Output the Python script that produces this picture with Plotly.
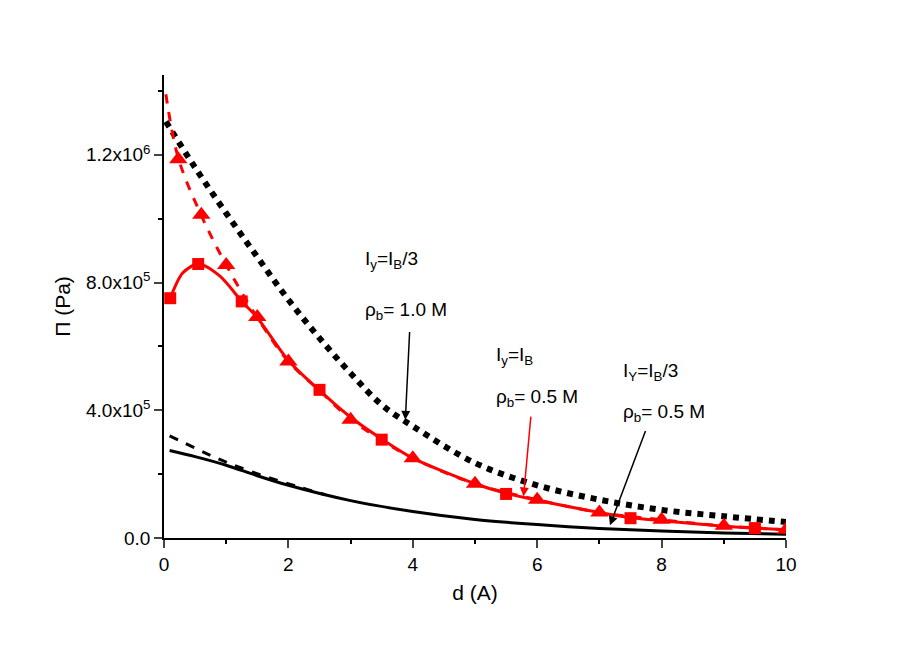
import plotly.graph_objects as go

dot_x = [0.03, 0.5, 1, 1.5, 2, 2.5, 3, 3.5, 4, 5, 6, 7, 8, 9, 10]
dot_y = [1.304e6, 1.16e6, 1.017e6, 0.88e6, 0.746e6, 0.626e6, 0.516e6, 0.417e6, 0.35e6, 0.235e6, 0.165e6, 0.12e6, 0.088e6, 0.068e6, 0.05e6]

rdash_x = [0.03, 0.23, 0.6, 1.0, 1.5, 2, 2.5, 3, 3.5, 4, 5, 6, 7, 8, 9, 10]
rdash_y = [1.39e6, 1.19e6, 1.01e6, 0.855e6, 0.69e6, 0.553e6, 0.462e6, 0.372e6, 0.306e6, 0.25e6, 0.17e6, 0.12e6, 0.08e6, 0.057e6, 0.038e6, 0.026e6]

tri_x = [0.23, 0.6, 1.0, 1.5, 2, 3, 4, 5, 6, 7, 8, 9, 10]
tri_y = [1.186e6, 1.012e6, 0.855e6, 0.692e6, 0.553e6, 0.37e6, 0.25e6, 0.17e6, 0.12e6, 0.08e6, 0.057e6, 0.038e6, 0.026e6]

rsol_x = [0.1, 0.3, 0.55, 0.9, 1.25, 1.5, 2, 2.5, 3, 3.5, 4, 5, 5.5, 6, 7, 7.5, 8, 9, 9.5, 10]
rsol_y = [0.751e6, 0.83e6, 0.858e6, 0.82e6, 0.741e6, 0.69e6, 0.556e6, 0.462e6, 0.378e6, 0.31e6, 0.25e6, 0.17e6, 0.14e6, 0.118e6, 0.08e6, 0.064e6, 0.054e6, 0.037e6, 0.031e6, 0.026e6]

sq_x = [0.1, 0.55, 1.25, 2.5, 3.5, 5.5, 7.5, 9.5]
sq_y = [0.751e6, 0.858e6, 0.741e6, 0.464e6, 0.308e6, 0.138e6, 0.062e6, 0.031e6]

bdash_x = [0.09, 0.85, 1.22, 1.7, 2.2, 2.6]
bdash_y = [0.32e6, 0.25e6, 0.221e6, 0.188e6, 0.158e6, 0.135e6]

bsol_x = [0.09, 0.5, 1, 1.5, 2, 3, 4, 5, 6, 7, 8, 9, 10]
bsol_y = [0.274e6, 0.255e6, 0.228e6, 0.195e6, 0.165e6, 0.117e6, 0.083e6, 0.058e6, 0.042e6, 0.03e6, 0.022e6, 0.016e6, 0.012e6]

ytick_vals = [0, 4e5, 8e5, 1.2e6]
ytick_text = ["0.0", "4.0x10<sup>5</sup>", "8.0x10<sup>5</sup>", "1.2x10<sup>6</sup>"]

RED = "#ff0000"
fig = go.Figure()
fig.add_trace(go.Scatter(x=bsol_x, y=bsol_y, mode="lines", line=dict(color="black", width=3, shape="spline", smoothing=0.8)))
fig.add_trace(go.Scatter(x=bdash_x, y=bdash_y, mode="lines", line=dict(color="black", width=3, dash="dash", shape="spline")))
fig.add_trace(go.Scatter(x=dot_x, y=dot_y, mode="lines", line=dict(color="black", width=6, dash="dot", shape="spline")))
fig.add_trace(go.Scatter(x=rdash_x, y=rdash_y, mode="lines", line=dict(color=RED, width=3, dash="dash", shape="spline")))
fig.add_trace(go.Scatter(x=rsol_x, y=rsol_y, mode="lines", line=dict(color=RED, width=3, shape="spline", smoothing=0.8)))
fig.add_trace(go.Scatter(x=tri_x, y=tri_y, mode="markers", marker=dict(color=RED, symbol="triangle-up", size=16)))
fig.add_trace(go.Scatter(x=sq_x, y=sq_y, mode="markers", marker=dict(color=RED, symbol="square", size=12)))

F = dict(family="Liberation Sans, Arial", size=19, color="black")
def txt(x, y, s):
    fig.add_annotation(x=x, y=y, xref="x", yref="y", text=s, showarrow=False, xanchor="left", yanchor="middle", font=F)

txt(3.2, 0.87e6, "I<sub>y</sub>=I<sub>B</sub>/3")
txt(3.2, 0.71e6, "ρ<sub>b</sub>= 1.0 M")
txt(5.3, 0.57e6, "I<sub>y</sub>=I<sub>B</sub>")
txt(5.3, 0.44e6, "ρ<sub>b</sub>= 0.5 M")
txt(7.35, 0.52e6, "I<sub>Y</sub>=I<sub>B</sub>/3")
txt(7.35, 0.39e6, "ρ<sub>b</sub>= 0.5 M")

def arrow(x0, y0, x1, y1, c):
    fig.add_annotation(x=x1, y=y1, ax=x0, ay=y0, xref="x", yref="y", axref="x", ayref="y",
                       text="", showarrow=True, arrowhead=2, arrowsize=1.2, arrowwidth=1.5, arrowcolor=c)

arrow(3.95, 0.65e6, 3.88, 0.37e6, "black")
arrow(5.9, 0.385e6, 5.78, 0.13e6, RED)
arrow(7.75, 0.34e6, 7.17, 0.04e6, "black")

TF = dict(family="Liberation Sans, Arial", size=19, color="black")
fig.update_layout(
    width=913, height=646, showlegend=False,
    paper_bgcolor="white", plot_bgcolor="white",
    margin=dict(l=156, r=135, t=67, b=116),
    font=F,
    xaxis=dict(range=[0, 10], tickvals=[0, 2, 4, 6, 8, 10], ticks="outside", ticklen=8, tickwidth=1.5,
               tickfont=TF,
               showline=True, linecolor="black", linewidth=1.5, showgrid=False, zeroline=False,
               minor=dict(tickvals=[1, 3, 5, 7, 9], ticks="outside", ticklen=4, tickcolor="black"),
               title=dict(text="d (A)", standoff=12, font=dict(family="Liberation Sans, Arial", size=21))),
    yaxis=dict(range=[0, 1.45e6], tickvals=ytick_vals, ticktext=ytick_text, ticks="outside", ticklen=8, tickwidth=1.5,
               tickfont=TF,
               showline=True, linecolor="black", linewidth=1.5, showgrid=False, zeroline=False,
               minor=dict(tickvals=[2e5, 6e5, 1e6, 1.4e6], ticks="outside", ticklen=4, tickcolor="black"),
               title=dict(text="Π (Pa)", standoff=10, font=dict(family="Liberation Sans, Arial", size=21))),
)
fig.write_html("out.html")
